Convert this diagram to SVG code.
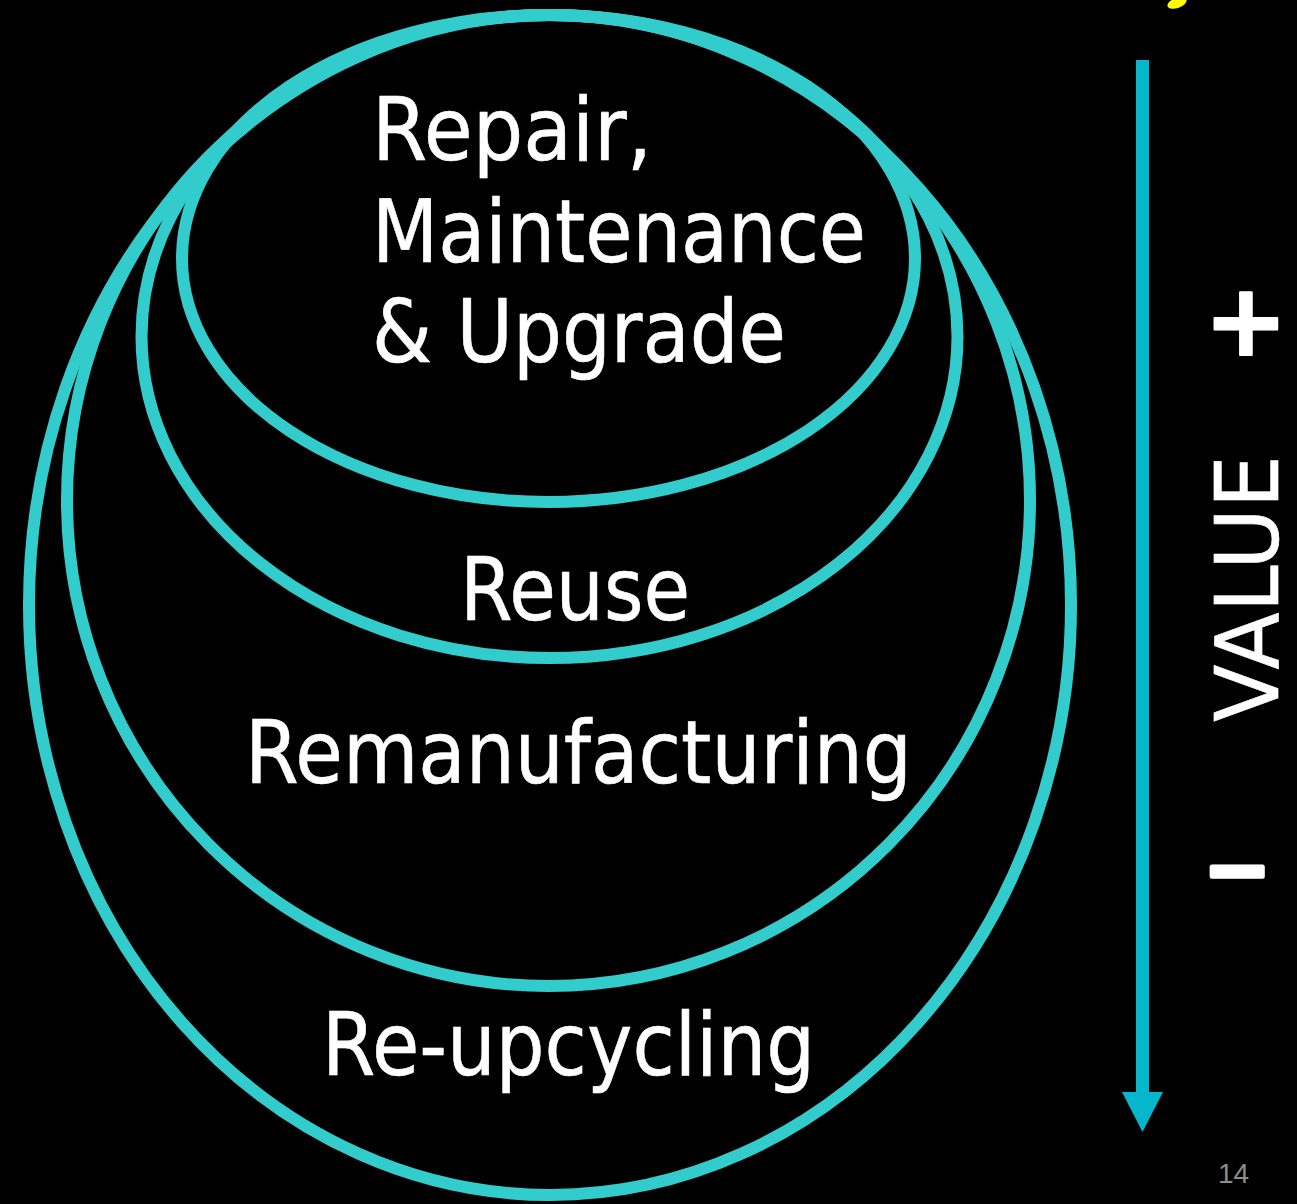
<svg xmlns="http://www.w3.org/2000/svg" width="1297" height="1204" viewBox="0 0 1297 1204">
  <defs>
    <style>
      .ring { fill: none; stroke: #33CCCC; stroke-width: 12; }
      .lbl { font-family: "DejaVu Sans", "Noto Sans", sans-serif; font-size: 88px; fill: #FFFFFF; stroke: #FFFFFF; stroke-width: 0.6; stroke-linejoin: round; }
      .sym { font-family: "DejaVu Sans", "Noto Sans", sans-serif; font-weight: bold; fill: #FFFFFF; stroke: #FFFFFF; stroke-linejoin: round; stroke-linecap: round; }
      .pg { font-family: "Liberation Sans", Arial, sans-serif; font-size: 28px; fill: #8C8C8C; }
    </style>
    <marker id="head" viewBox="0 0 40 41" refX="0" refY="20.5" markerUnits="userSpaceOnUse" markerWidth="40" markerHeight="41" orient="auto">
      <path d="M0,0 L40,20.5 L0,41 Z" fill="#05B6CD"/>
    </marker>
  </defs>
  <rect x="0" y="0" width="1297" height="1204" fill="#000000"/>

  <g id="node-reupcycling">
    <ellipse class="ring" cx="550" cy="605" rx="521" ry="590"/>
    <text class="lbl" x="322" y="1075" textLength="493" lengthAdjust="spacingAndGlyphs">Re-upcycling</text>
  </g>
  <g id="node-remanufacturing">
    <ellipse class="ring" cx="548.5" cy="500.5" rx="481.5" ry="485.5"/>
    <text class="lbl" x="245" y="783" textLength="667" lengthAdjust="spacingAndGlyphs">Remanufacturing</text>
  </g>
  <g id="node-reuse">
    <ellipse class="ring" cx="549.5" cy="336.5" rx="408" ry="321.5"/>
    <text class="lbl" x="460" y="620" textLength="230" lengthAdjust="spacingAndGlyphs">Reuse</text>
  </g>
  <g id="node-repair">
    <ellipse class="ring" cx="548.5" cy="258.5" rx="366.5" ry="243.5"/>
    <text class="lbl" x="372" y="160" textLength="280" lengthAdjust="spacingAndGlyphs">Repair,</text>
    <text class="lbl" x="372" y="262" textLength="494" lengthAdjust="spacingAndGlyphs">Maintenance</text>
    <text class="lbl" x="372" y="362" textLength="414" lengthAdjust="spacingAndGlyphs">&amp; Upgrade</text>
  </g>

  <g id="connectors">
    <line x1="1142.5" y1="60" x2="1142.5" y2="1092" stroke="#05B6CD" stroke-width="13" marker-end="url(#head)"/>
  </g>

  <g id="value-axis">
    <text class="lbl" transform="translate(1278,722) rotate(-90)" x="0" y="0" textLength="267" lengthAdjust="spacingAndGlyphs">VALUE</text>
    <text class="sym" x="1246" y="355" font-size="100" stroke-width="2" text-anchor="middle">+</text>
    <text class="sym" x="1237" y="897" font-size="80" stroke-width="5" text-anchor="middle">−</text>
  </g>

  <ellipse cx="1177" cy="3" rx="10" ry="5" fill="#FFFF00" transform="rotate(-20 1177 3)"/>
  <text class="pg" x="1218" y="1183">14</text>
</svg>
